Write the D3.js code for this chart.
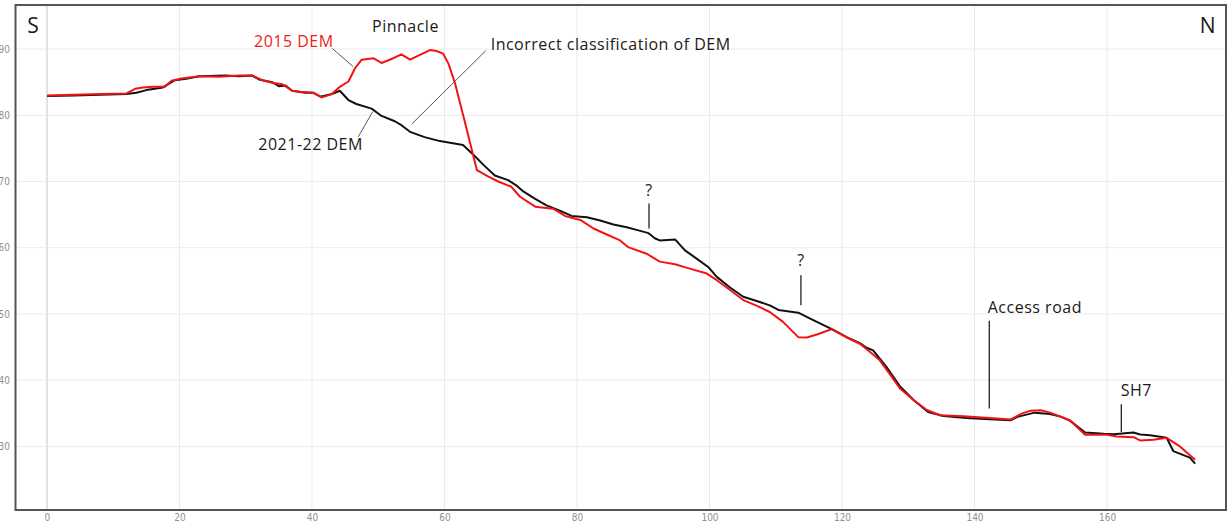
<!DOCTYPE html>
<html>
<head>
<meta charset="utf-8">
<script src="https://cdn.jsdelivr.net/npm/d3@7"></script>
<style>
  html, body { margin: 0; padding: 0; background: #fff; }
  svg { display: block; }
  .tick text { font-family: "Liberation Sans Narrow", "DejaVu Sans Condensed", "Liberation Sans", sans-serif; font-size: 10px; fill: #8f8f8f; }
  .note { font-family: "Open Sans", "Noto Sans", sans-serif; font-size: 16px; letter-spacing: 0.5px; fill: #1a1a1a; }
</style>
</head>
<body>
<svg id="chart" width="1229" height="526"></svg>
<script>
// Long profile, south to north: distance (m) vs elevation (m)
const xTicks = [0, 20, 40, 60, 80, 100, 120, 140, 160];
const yTicks = [30, 40, 50, 60, 70, 80, 90];

// 2021-22 DEM profile
const dist2021 = [0, 4, 8, 12, 13.5, 15, 17.5, 18.5, 19.3, 21, 23, 27, 29, 31, 32, 34, 35, 36, 37, 39, 40.2, 41.3, 43, 44.2,
  45.5, 46.7, 49, 50.5, 52.5, 53.5, 54.8, 57, 59.3, 62.8, 64.4, 66, 67.6, 69.6, 71, 71.9, 73.5, 75.4, 77.4, 79.2, 81.5,
  83.5, 85.5, 87.5, 89, 90.8, 91.8, 92.5, 94.8, 96.3, 98, 99.8, 101.1, 103.1, 105.1, 107, 109.1, 110.4, 113.4, 115.2,
  118.7, 120.7, 122.7, 123.7, 124.7, 126.7, 128.8, 130.8, 133, 135.3, 138.8, 142.3, 145.4, 146.6, 149.1, 151.4, 153,
  154.4, 156.7, 159.5, 161, 164, 165, 166.5, 169, 170, 172.5, 173.3];
const elev2021 = [82.9, 83.0, 83.1, 83.2, 83.4, 83.8, 84.2, 84.8, 85.3, 85.5, 85.9, 86.0, 85.9, 86.0, 85.4, 85.0, 84.4, 84.5,
  83.7, 83.4, 83.4, 82.8, 83.2, 83.7, 82.3, 81.7, 81.0, 79.9, 79.1, 78.5, 77.5, 76.7, 76.1, 75.5, 74.0, 72.4, 70.9, 70.2,
  69.3, 68.5, 67.5, 66.4, 65.6, 64.8, 64.6, 64.1, 63.5, 63.1, 62.7, 62.2, 61.4, 61.1, 61.25, 59.6, 58.4, 57.1, 55.6, 54.0,
  52.6, 52.0, 51.3, 50.6, 50.2, 49.3, 47.6, 46.5, 45.6, 44.9, 44.5, 42.0, 39.0, 37.0, 35.2, 34.6, 34.3, 34.1, 33.95, 34.5,
  35.1, 34.9, 34.5, 33.9, 32.1, 31.9, 31.85, 32.1, 31.8, 31.7, 31.3, 29.3, 28.3, 27.4];

// 2015 DEM profile
const dist2015 = [0, 4, 8, 12, 13.3, 14.5, 16, 17.8, 18.8, 20, 23, 26, 29, 31, 32.5, 34, 35.5, 37, 38.2, 40.2, 41.5, 43,
  44.2, 45.5, 46.5, 47.5, 49.3, 50.5, 52, 53.5, 54.8, 57.8, 58.8, 59.8, 60.6, 61.6, 63, 64.9, 66.5, 68.1, 70.1, 71.4,
  73.7, 76.4, 78.2, 80.5, 82.5, 84.5, 86.5, 87.7, 90.5, 92.5, 94.8, 96.5, 99.6, 101.1, 102.8, 105.1, 107, 109.1, 111.1,
  113.4, 114.7, 116.2, 118.4, 120.7, 122.7, 124.2, 125.7, 127.3, 128.8, 130.8, 132.8, 134.8, 138.3, 142.3, 145.4,
  147.1, 148.5, 150, 151.4, 154.4, 156.7, 160, 161.5, 164, 165, 167, 169, 171, 173.3];
const elev2015 = [83.0, 83.1, 83.2, 83.3, 84.0, 84.2, 84.3, 84.3, 85.2, 85.5, 85.9, 85.8, 86.0, 86.0, 85.3, 84.9, 84.7, 83.7,
  83.55, 83.4, 82.7, 83.2, 84.3, 85.1, 87.1, 88.4, 88.6, 87.9, 88.5, 89.2, 88.4, 89.85, 89.7, 89.3, 87.8, 84.8, 79.3, 71.7,
  70.8, 70.0, 69.2, 67.7, 66.2, 65.9, 64.8, 64.2, 62.9, 62.0, 61.1, 60.1, 59.1, 57.9, 57.5, 57.0, 56.1, 55.1, 53.85, 52.1,
  51.3, 50.3, 48.8, 46.5, 46.45, 46.9, 47.7, 46.45, 45.5, 44.3, 43.0, 40.8, 38.7, 37.0, 35.5, 34.7, 34.55, 34.3, 34.05,
  34.95, 35.4, 35.45, 35.1, 33.95, 31.75, 31.75, 31.5, 31.4, 30.9, 31.0, 31.3, 30.0, 28.0];

// Text labels (distance, elevation, anchor, colour)
const labelText = ["S", "N", "Pinnacle", "Incorrect classification of DEM", "2015 DEM", "2021-22 DEM", "?", "?", "Access road", "SH7"];
const labelX = [-2.1, 175.2, 49.06, 66.97, 31.25, 31.9, 90.87, 113.8, 142.0, 162.07];
const labelY = [92.4, 92.4, 92.57, 89.9, 90.35, 74.74, 67.8, 57.2, 50.07, 37.63];
const labelAnchor = ["middle", "middle", "start", "start", "start", "start", "middle", "middle", "start", "start"];
const labelColor = ["#1a1a1a", "#1a1a1a", "#1a1a1a", "#1a1a1a", "#f01c1c", "#1a1a1a", "#1a1a1a", "#1a1a1a", "#1a1a1a", "#1a1a1a"];
const labelSize = [21, 21, 16, 16, 16, 16, 16, 16, 16, 16];

// Leader lines from labels to the profiles
const leaderX1 = [43.06, 46.99, 66.22, 90.87, 113.8, 142.23, 162.16];
const leaderY1 = [90.1, 76.75, 89.74, 66.69, 55.86, 48.96, 36.37];
const leaderX2 = [46.23, 49.16, 55.05, 90.87, 113.8, 142.23, 162.16];
const leaderY2 = [87.33, 80.53, 78.67, 62.92, 51.33, 35.72, 32.19];

const svg = d3.select("#chart");
const panel = { left: 15.5, right: 1226, top: 5, bottom: 510 };

const x = d3.scaleLinear().domain([-4.75, 177.96]).range([panel.left, panel.right]);
const y = d3.scaleLinear().domain([20.4, 96.65]).range([panel.bottom, panel.top]);

svg.append("defs").append("clipPath").attr("id", "panel-clip")
  .append("rect")
  .attr("x", panel.left).attr("y", panel.top)
  .attr("width", panel.right - panel.left).attr("height", panel.bottom - panel.top);

// Grid
const grid = svg.append("g");
grid.selectAll("line.gy").data(yTicks).join("line")
  .attr("x1", panel.left).attr("x2", panel.right)
  .attr("y1", d => y(d)).attr("y2", d => y(d))
  .attr("stroke", "#ebebeb").attr("stroke-width", 1);
grid.selectAll("line.gx").data(xTicks).join("line")
  .attr("y1", panel.top).attr("y2", panel.bottom)
  .attr("x1", d => x(d)).attr("x2", d => x(d))
  .attr("stroke", d => d === 0 ? "#e2e2e2" : "#ebebeb")
  .attr("stroke-width", d => d === 0 ? 2 : 1);

// Axes
const yAxis = svg.append("g").attr("transform", `translate(${panel.left},0)`)
  .call(d3.axisLeft(y).tickValues(yTicks).tickSize(0).tickPadding(5.5));
yAxis.select(".domain").remove();

const xAxis = svg.append("g").attr("transform", `translate(0,${panel.bottom})`)
  .call(d3.axisBottom(x).tickValues(xTicks).tickSize(0).tickPadding(4));
xAxis.select(".domain").remove();

// Profiles
const line = d3.line().x(d => x(d[0])).y(d => y(d[1]));
const plot = svg.append("g").attr("clip-path", "url(#panel-clip)");

plot.append("path")
  .datum(d3.zip(dist2021, elev2021))
  .attr("d", line)
  .attr("fill", "none").attr("stroke", "#111").attr("stroke-width", 2)
  .attr("stroke-linejoin", "round");

plot.append("path")
  .datum(d3.zip(dist2015, elev2015))
  .attr("d", line)
  .attr("fill", "none").attr("stroke", "#f21414").attr("stroke-width", 2)
  .attr("stroke-linejoin", "round");

// Leader lines
const leaders = d3.range(leaderX1.length);
svg.append("g").selectAll("line").data(leaders).join("line")
  .attr("x1", i => x(leaderX1[i])).attr("y1", i => y(leaderY1[i]))
  .attr("x2", i => x(leaderX2[i])).attr("y2", i => y(leaderY2[i]))
  .attr("stroke", i => i < 3 ? "#555" : "#222")
  .attr("stroke-width", i => i < 3 ? 1 : 1.3);

// Labels
svg.append("g").selectAll("text").data(d3.range(labelText.length)).join("text")
  .attr("class", "note")
  .attr("x", i => x(labelX[i])).attr("y", i => y(labelY[i]))
  .attr("text-anchor", i => labelAnchor[i])
  .style("font-size", i => labelSize[i] + "px")
  .style("letter-spacing", i => labelSize[i] > 16 ? "0px" : "0.5px")
  .style("fill", i => labelColor[i])
  .text(i => labelText[i]);

// Panel border
svg.append("rect")
  .attr("x", panel.left).attr("y", panel.top)
  .attr("width", panel.right - panel.left).attr("height", panel.bottom - panel.top)
  .attr("fill", "none").attr("stroke", "#555").attr("stroke-width", 2);
</script>
</body>
</html>
